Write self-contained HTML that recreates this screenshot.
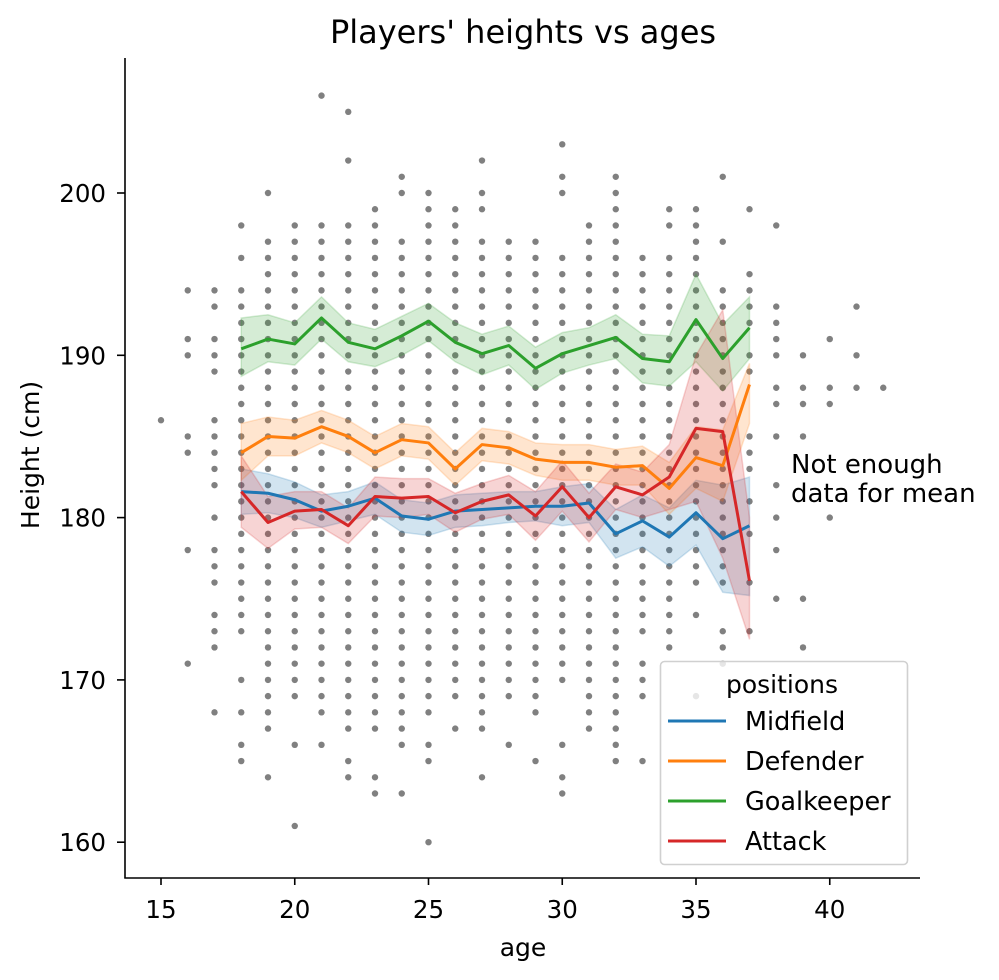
<!DOCTYPE html>
<html><head><meta charset="utf-8"><style>
body{margin:0;background:#fff}
svg{display:block;font-family:"DejaVu Sans","Liberation Sans",sans-serif}
</style></head><body>
<svg id="chart" width="999" height="980" viewBox="0 0 999 980" xmlns="http://www.w3.org/2000/svg">
<rect width="999" height="980" fill="#fff"/>
<text x="523" y="43" font-size="32" text-anchor="middle">Players' heights vs ages</text>
<g id="dots"></g>
<g id="bands"></g>
<g id="lines"></g>
<g id="axes"></g>
<text x="791" y="473" font-size="26">Not enough</text>
<text x="791" y="502" font-size="26">data for mean</text>
<g id="legend"></g>
</svg>
<script>
// scatter data: per age, list of heights ("a-b" = every integer height from a to b)
const ages = [15,16,17,18,19,20,21,22,23,24,25,26,27,28,29,30,31,32,33,34,35,36,37,38,39,40,41,42];
const heightSets = [
 "186",
 "171,178,184,185,190,191,194",
 "168,172,173,174,176,177,178,180,182,183,184,185,186,189,190,191,193,194",
 "165,166,168,170,173-194,196,198",
 "164,167-197,200",
 "161,166,169-198",
 "166,168-198,206",
 "164,165,167-198,202,205",
 "163,164,167-199",
 "163,166,167-197,200,201",
 "160,165,166,168-200",
 "167,169-199",
 "164,167-197,199,200,202",
 "166,169-197",
 "165,168-197",
 "163,164,166,170-196,200,201,203",
 "167-198",
 "165-201",
 "165,169,170,171,173-196",
 "172-196,198,199",
 "169,174,176-199",
 "171,172,173,176-194,197,201",
 "173,176,179,181,183,184,185,189,190,192,193,194,195,199",
 "175,178,180,182,185,187,188,190,191,192,193,198",
 "172,175,185,187,188,190",
 "180,187,188,191",
 "188,190,193",
 "188"
];
const meanAges = [18,19,20,21,22,23,24,25,26,27,28,29,30,31,32,33,34,35,36,37];
const seriesNames = ["Midfield","Defender","Goalkeeper","Attack"];
const midMean = [181.6,181.5,181.1,180.4,180.7,181.2,180.1,179.9,180.4,180.5,180.6,180.7,180.7,180.9,179.0,179.8,178.8,180.3,178.7,179.5];
const midLo =   [180.2,180.3,180.0,179.4,179.8,180.2,179.1,178.9,179.4,179.5,179.7,179.8,179.5,179.7,177.5,178.2,177.0,178.3,175.4,175.2];
const midHi =   [183.0,182.7,182.2,181.4,181.6,182.2,181.1,180.9,181.4,181.5,181.6,181.6,181.9,182.1,180.5,181.4,180.6,182.3,182.0,182.5];
const defMean = [184.0,185.0,184.9,185.6,185.0,184.0,184.8,184.6,183.0,184.5,184.3,183.6,183.4,183.4,183.1,183.2,181.8,183.7,183.2,188.2];
const defLo =   [182.3,183.8,183.8,184.6,184.0,183.0,183.8,183.6,182.0,183.5,183.3,182.6,182.3,182.3,182.0,182.0,180.2,181.8,181.0,185.8];
const defHi =   [185.8,186.2,186.0,186.6,186.0,185.0,185.8,185.6,184.0,185.5,185.3,184.6,184.5,184.5,184.2,184.4,183.4,185.6,185.4,189.5];
const gkMean =  [190.4,191.0,190.7,192.3,190.8,190.4,191.2,192.1,190.8,190.1,190.6,189.2,190.1,190.6,191.1,189.8,189.6,192.2,189.8,191.7];
const gkLo =    [188.7,189.6,189.4,191.0,189.6,189.3,190.0,190.9,189.6,188.8,189.4,187.9,188.9,189.4,189.8,188.3,188.1,189.6,187.8,189.8];
const gkHi =    [192.3,192.5,192.0,193.6,192.0,191.6,192.4,193.2,192.0,191.3,191.8,190.5,191.4,191.7,192.5,191.3,191.2,195.0,191.9,193.6];
const attMean = [181.6,179.7,180.4,180.5,179.5,181.3,181.2,181.3,180.3,181.0,181.4,180.1,181.9,180.0,181.9,181.4,182.5,185.5,185.3,176.1];
const attLo =   [179.4,178.1,179.3,179.4,178.4,180.1,180.0,180.2,179.1,179.9,180.2,178.6,180.4,178.5,180.5,180.0,180.5,181.0,177.5,172.5];
const attHi =   [183.8,181.3,181.6,181.6,180.6,182.5,182.4,182.4,181.5,182.1,182.6,181.6,183.5,181.5,183.3,182.8,184.5,190.0,192.8,180.0];
const xTicks = [15,20,25,30,35,40];
const yTicks = [160,170,180,190,200];

const NS = "http://www.w3.org/2000/svg";
function xs(a){ return 161 + (a-15)*26.75; }
function ys(h){ return 193 + (200-h)*16.23; }
function mk(tag, attrs, parent){ const e=document.createElementNS(NS,tag); for(const k in attrs) e.setAttribute(k, attrs[k]); parent.appendChild(e); return e; }

const dots = document.getElementById('dots');
ages.forEach((a,i)=>{
  heightSets[i].split(',').forEach(tok=>{
    let vals=[];
    if(tok.includes('-')){ const [lo,hi]=tok.split('-').map(Number); for(let h=lo;h<=hi;h++) vals.push(h); }
    else vals.push(Number(tok));
    vals.forEach(h=>{
      const c = mk('circle',{cx:xs(a),cy:ys(h),r:3.2,fill:'#808080'},dots);
      
      
    });
  });
});

const colors = ["#1f77b4","#ff7f0e","#2ca02c","#d62728"];
const means=[midMean,defMean,gkMean,attMean], los=[midLo,defLo,gkLo,attLo], his=[midHi,defHi,gkHi,attHi];
const bands=document.getElementById('bands'), lines=document.getElementById('lines');
for(let s=0;s<4;s++){
  let up=meanAges.map((a,i)=>xs(a)+','+ys(his[s][i]));
  let dn=meanAges.map((a,i)=>xs(a)+','+ys(los[s][i])).reverse();
  const p=mk('polygon',{points:up.concat(dn).join(' '),fill:colors[s],'fill-opacity':0.2,stroke:colors[s],'stroke-opacity':0.2,'stroke-width':1.5},bands);
  
  
}
for(let s=0;s<4;s++){
  const l=mk('polyline',{points:meanAges.map((a,i)=>xs(a)+','+ys(means[s][i])).join(' '),fill:'none',stroke:colors[s],'stroke-width':3,'stroke-linejoin':'round'},lines);
  
  
}

const axes=document.getElementById('axes');
let sp=mk('line',{x1:125,y1:58,x2:125,y2:878.5,stroke:'#000','stroke-width':1.6},axes);
 
sp=mk('line',{x1:124.4,y1:878,x2:920,y2:878,stroke:'#000','stroke-width':1.6},axes);
 
xTicks.forEach(t=>{
  const tk=mk('line',{x1:xs(t),y1:878,x2:xs(t),y2:885,stroke:'#000','stroke-width':1.6},axes);
   
  const tx=mk('text',{x:xs(t),y:918,'font-size':24.5,'text-anchor':'middle'},axes); tx.textContent=t;
   
});
yTicks.forEach(t=>{
  const tk=mk('line',{x1:117,y1:ys(t),x2:125,y2:ys(t),stroke:'#000','stroke-width':1.6},axes);
   
  const tx=mk('text',{x:106,y:ys(t)+9,'font-size':24.5,'text-anchor':'end'},axes); tx.textContent=t;
   
});
let at=mk('text',{x:523,y:956,'font-size':25,'text-anchor':'middle'},axes); at.textContent='age';
 
at=mk('text',{x:39,y:455,'font-size':25,'text-anchor':'middle',transform:'rotate(-90 39 455)'},axes); at.textContent='Height (cm)';
 

const lg=document.getElementById('legend');
let box=mk('rect',{x:660.5,y:661.5,width:247,height:203,rx:4,fill:'#fff','fill-opacity':0.8,stroke:'#d0d0d0','stroke-width':1.6},lg);
 
let lt=mk('text',{x:782,y:693,'font-size':25,'text-anchor':'middle'},lg); lt.textContent='positions';
 
seriesNames.forEach((n,i)=>{
  const y=721+i*40;
  const ll=mk('line',{x1:668,y1:y,x2:726,y2:y,stroke:colors[i],'stroke-width':3},lg);
   
  const t=mk('text',{x:745,y:y+9,'font-size':25.5},lg); t.textContent=n;
   
});
</script>
</body></html>
